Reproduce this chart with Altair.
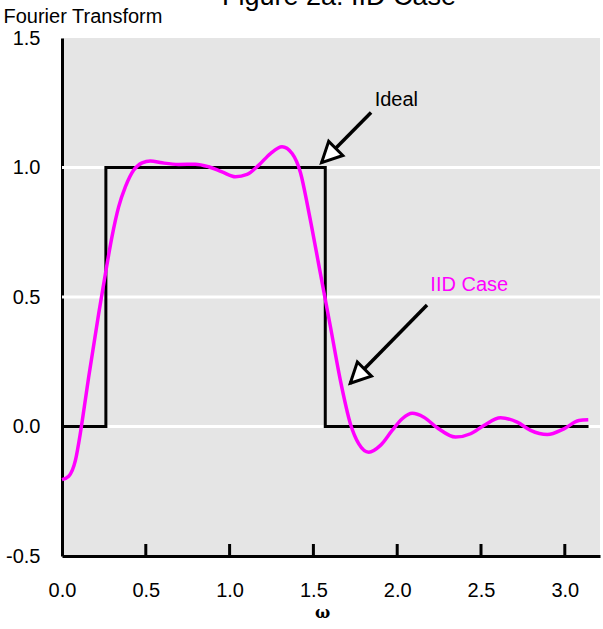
import altair as alt
import pandas as pd

# ---- data ----
omega_iid = [0.0, 0.04, 0.08, 0.109, 0.133, 0.159, 0.219, 0.259, 0.298, 0.338, 0.378,
             0.428, 0.478, 0.527, 0.597, 0.696, 0.796, 0.875, 0.955, 1.035, 1.104,
             1.174, 1.244, 1.313, 1.373, 1.423, 1.472, 1.542, 1.602, 1.661, 1.721,
             1.771, 1.83, 1.9, 1.97, 2.03, 2.09, 2.159, 2.239, 2.348, 2.438, 2.517,
             2.617, 2.716, 2.796, 2.896, 2.995, 3.084, 3.14]
ft_iid = [-0.205, -0.192, -0.131, -0.028, 0.075, 0.19, 0.436, 0.59, 0.732, 0.848, 0.925,
          0.99, 1.018, 1.025, 1.018, 1.012, 1.013, 1.003, 0.983, 0.964, 0.973,
          1.009, 1.054, 1.08, 1.054, 0.98, 0.83, 0.59, 0.384, 0.178, 0.01,
          -0.067, -0.099, -0.073, -0.015, 0.03, 0.051, 0.036, -0.005, -0.041, -0.028, 0.004,
          0.034, 0.017, -0.015, -0.031, -0.009, 0.023, 0.026]

omega_ideal = [0.0, 0.2618, 0.2618, 1.5708, 1.5708, 3.1416]
ft_ideal = [0.0, 0.0, 1.0, 1.0, 0.0, 0.0]

x_tick_values = [0.0, 0.5, 1.0, 1.5, 2.0, 2.5, 3.0]
x_inner_ticks = [0.5, 1.0, 1.5, 2.0, 2.5, 3.0]
y_tick_values = [-0.5, 0.0, 0.5, 1.0, 1.5]
grid_values = [0.0, 0.5, 1.0]

annot_text = ["Ideal", "IID Case"]
annot_color = ["#000000", "#FF00FF"]
annot_x = [1.995, 2.43]
annot_y = [1.261, 0.545]
arrow_tail_x = [1.844, 2.178]
arrow_tail_y = [1.212, 0.469]
arrow_tip_x = [1.549, 1.720]
arrow_tip_y = [1.019, 0.167]

title_text = "Figure 2a: IID Case"

# ---- tables ----
iid_df = pd.DataFrame({"x": omega_iid, "y": ft_iid, "i": range(len(omega_iid))})
ideal_df = pd.DataFrame({"x": omega_ideal, "y": ft_ideal, "i": range(len(omega_ideal))})
tick_df = pd.DataFrame({"x": x_inner_ticks})
grid_df = pd.DataFrame({"y": grid_values})
annot_df = pd.DataFrame({"x": annot_x, "y": annot_y, "t": annot_text, "c": annot_color})
arrow_df = pd.DataFrame({"x": arrow_tail_x, "y": arrow_tail_y,
                         "x2": arrow_tip_x, "y2": arrow_tip_y})
head_df = pd.DataFrame({"x": arrow_tip_x, "y": arrow_tip_y})

W, H = 538, 518
FONT = "Liberation Sans"
FS = 20
LABEL_EXPR = "replace(format(datum.value, '.1f'), '\u2212', '-')"

x_scale = alt.Scale(domain=[0, 3.21], nice=False, zero=False)
y_scale = alt.Scale(domain=[-0.5, 1.5], nice=False, zero=False)

x_axis = alt.Axis(values=x_tick_values, labelExpr=LABEL_EXPR, title="ω", grid=False,
                  ticks=False, labelFlush=False, labelOverlap=False,
                  labelFont=FONT, labelFontSize=FS, labelColor="black", labelPadding=24,
                  domainColor="black", domainWidth=3,
                  titleFont="DejaVu Serif", titleFontSize=16, titleFontWeight="bold",
                  titleColor="black", titleX=260, titleY=61, titleAlign="center",
                  titleBaseline="alphabetic")
y_axis = alt.Axis(values=y_tick_values, labelExpr=LABEL_EXPR, title="Fourier Transform",
                  grid=False, ticks=False, labelFont=FONT, labelFontSize=FS,
                  labelColor="black", labelPadding=22, domainColor="black", domainWidth=3,
                  titleAngle=0, titleAlign="left", titleBaseline="alphabetic",
                  titleX=-59, titleY=-16, titleFont=FONT, titleFontSize=FS,
                  titleFontWeight="normal", titleColor="black")

X = alt.X("x:Q", scale=x_scale, axis=x_axis)
Y = alt.Y("y:Q", scale=y_scale, axis=y_axis)

grid = alt.Chart(grid_df).mark_rule(color="white", strokeWidth=3).encode(
    y=Y, x=alt.value(0), x2=alt.value(W))

ideal = alt.Chart(ideal_df).mark_line(color="black", strokeWidth=3).encode(
    x=X, y=Y, order="i:Q")

iid = alt.Chart(iid_df).mark_line(color="#FF00FF", strokeWidth=3.5,
                                  interpolate="monotone").encode(
    x=X, y=Y, order="i:Q")

ticks = alt.Chart(tick_df).mark_rule(color="black", strokeWidth=3).encode(
    x=X, y=alt.value(H), y2=alt.value(H - 12))

shafts = alt.Chart(arrow_df).mark_rule(color="black", strokeWidth=3.5).encode(
    x=X, y=Y, x2="x2:Q", y2="y2:Q")

heads = alt.Chart(head_df).mark_point(shape="M0,0L-1,2L1,2Z", filled=True, fill="white",
                                      stroke="black", strokeWidth=3, size=400,
                                      angle=225, opacity=1, strokeJoin="miter").encode(
    x=X, y=Y)

labels = alt.Chart(annot_df).mark_text(font=FONT, fontSize=FS, align="center",
                                       baseline="middle").encode(
    x=X, y=Y, text="t:N", color=alt.Color("c:N", scale=None))

title = alt.Chart(alt.Data(values=[{"t": title_text}])).mark_text(
    font=FONT, fontSize=27, align="center", baseline="alphabetic", color="black").encode(
    x=alt.value(277), y=alt.value(-33), text="t:N")

chart = alt.layer(grid, ideal, iid, ticks, shafts, heads, labels, title).properties(
    width=W, height=H,
    autosize=alt.AutoSizeParams(type="none"),
    padding={"left": 62, "top": 38, "right": 3, "bottom": 73},
    background="white",
).configure_view(fill="#E5E5E5", strokeWidth=0)

chart.save("out.html", embed_options={"renderer": "svg", "actions": False})
